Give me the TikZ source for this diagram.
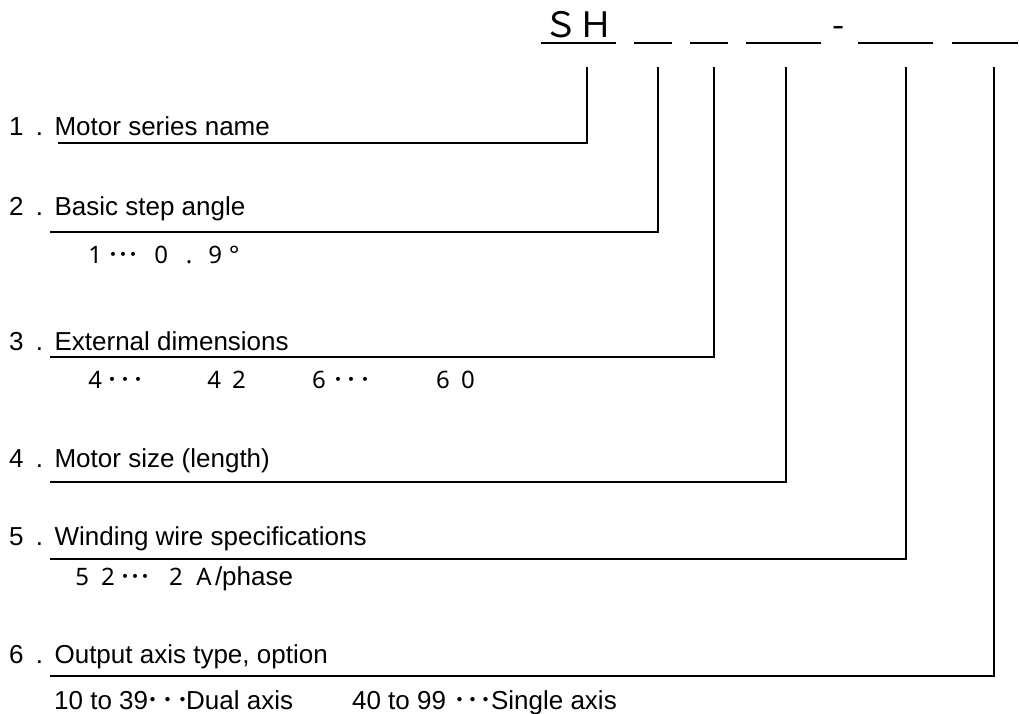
\documentclass[tikz,border=0pt]{standalone}
\usepackage{fontspec}
\setmainfont{Liberation Sans}
\newfontfamily\jpfont{Noto Sans CJK JP}
\newfontfamily\digitfont{Noto Sans}
\newcommand{\tridots}[1]{{\jpfont ･\kern#1･\kern#1･}}

\begin{document}
\begin{tikzpicture}[
        x=1pt, y=-1pt,
        code/.style={font=\jpfont\fontsize{35}{40}\selectfont, inner sep=0pt, anchor=base},
        item/.style={font=\fontsize{26}{30}\selectfont, inner sep=0pt, anchor=base west},
        detail/.style={font=\digitfont\fontsize{24}{28}\selectfont, inner sep=0pt, anchor=base west},
        slot/.style={line width=1.8pt},
        leader/.style={line width=1.8pt}
    ]
        \useasboundingbox (0,0) rectangle (1019,713);

        % Code du modele
        \node[code] (SH) at (578,37) {ＳＨ};
        \node[code] (dash) at (839,37) {-};

        % Cases vides sous le code
        \coordinate (S1a) at (541,43);  \coordinate (S1b) at (616,43);
        \coordinate (S2a) at (634,43);  \coordinate (S2b) at (672,43);
        \coordinate (S3a) at (690,43);  \coordinate (S3b) at (728,43);
        \coordinate (S4a) at (746,43);  \coordinate (S4b) at (821,43);
        \coordinate (S5a) at (858,43);  \coordinate (S5b) at (933,43);
        \coordinate (S6a) at (952,43);  \coordinate (S6b) at (1018,43);
        \draw[slot] (S1a) -- (S1b);
        \draw[slot] (S2a) -- (S2b);
        \draw[slot] (S3a) -- (S3b);
        \draw[slot] (S4a) -- (S4b);
        \draw[slot] (S5a) -- (S5b);
        \draw[slot] (S6a) -- (S6b);

        % Rubriques
        \node[item] (I1) at (9,135) {1\kern12.2pt.\kern11.5pt Motor series name};
        \node[item] (I2) at (9,215) {2\kern12.2pt.\kern11.5pt Basic step angle};
        \node[item] (I3) at (9,350) {3\kern12.2pt.\kern11.5pt External dimensions};
        \node[item] (I4) at (9,467) {4\kern12.2pt.\kern11.5pt Motor size (length)};
        \node[item] (I5) at (9,545) {5\kern12.2pt.\kern11.5pt Winding wire specifications};
        \node[item] (I6) at (9,663) {6\kern12.2pt.\kern11.5pt Output axis type, option};

        % Details sous les rubriques
        \node[detail] (D2) at (88.1,263) {1\kern5.2pt\tridots{-2pt}\kern15.1pt 0\kern17.9pt.\kern15.9pt 9\kern7pt°};
        \node[detail] (D3) at (88.1,388) {4\kern4.2pt\tridots{1pt}\kern63.1pt 4\kern11.2pt 2\kern66.2pt 6\kern6.1pt\tridots{1.5pt}\kern65.1pt 6\kern11.2pt 0};
        \node[detail] (D5) at (75.1,585) {5\kern12.2pt 2\kern4.1pt\tridots{-2pt}\kern18.1pt 2\kern13.5pt A\kern3.3pt{\rmfamily\fontsize{26}{30}\selectfont /phase}};
        \node[item] (D6) at (54,709) {10 to 39\kern-2pt\tridots{2pt}\kern-3pt Dual axis\kern59pt 40 to 99\kern7.5pt\tridots{0pt}\kern-1.5pt Single axis};

        % Lignes de rappel
        \coordinate (T1) at (587,67);  \coordinate (E1) at (58,143);
        \coordinate (T2) at (658,67);  \coordinate (E2) at (50,232);
        \coordinate (T3) at (714,67);  \coordinate (E3) at (50,357);
        \coordinate (T4) at (786,67);  \coordinate (E4) at (50,482);
        \coordinate (T5) at (906,67);  \coordinate (E5) at (50,559);
        \coordinate (T6) at (994,67);  \coordinate (E6) at (50,676);
        \draw[leader] (T1) |- (E1);
        \draw[leader] (T2) |- (E2);
        \draw[leader] (T3) |- (E3);
        \draw[leader] (T4) |- (E4);
        \draw[leader] (T5) |- (E5);
        \draw[leader] (T6) |- (E6);
    \end{tikzpicture}
\end{document}
